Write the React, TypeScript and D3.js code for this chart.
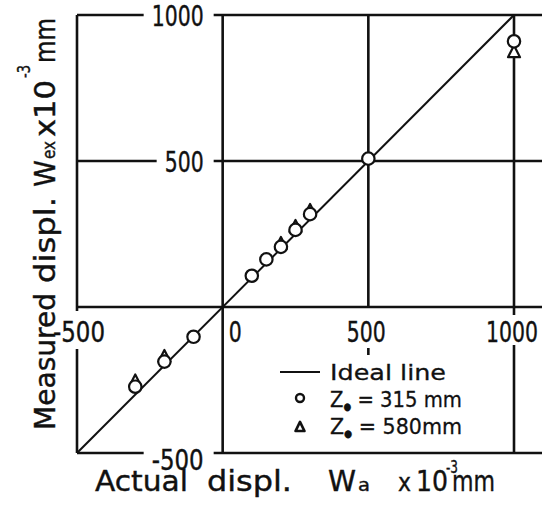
import React from 'react';
import * as d3 from 'd3';

// ---- data ----
const circleX = [-300, -200, -100, 100, 150, 200, 250, 300, 500, 1000];
const circleY = [-273, -187, -102, 107, 163, 206, 264, 318, 508, 910];
const triangleX = [-300, -200, 200, 250, 300, 1000];
const triangleY = [-253, -169, 218, 276, 331, 874];
const idealX = [-500, 1000];
const yTickValues = [1000, 500, -500];
const yTickLabels = ['1000', '500', '-500'];
const xTickValues = [-500, 0, 500, 1000];
const xTickLabels = ['-500', '0', '500', '1000'];
const seriesNames = ['Ideal line', '315 mm', '580mm'];

// ---- layout ----
const W = 542;
const H = 514;
const FONT = 'DejaVu Sans';
const digitW = 13;
const INK = '#111';

type Piece = { t: string; x: number; y: number; fs: number; len: number };

const xTitle: Piece[] = [
  { t: 'Actual', x: 95, y: 491, fs: 28, len: 93 },
  { t: 'displ.', x: 207, y: 491, fs: 28, len: 85 },
  { t: 'W', x: 328, y: 491, fs: 28, len: 28 },
  { t: 'a', x: 358, y: 491, fs: 18, len: 12 },
  { t: 'x', x: 398, y: 491, fs: 24, len: 13 },
  { t: '10', x: 416, y: 491, fs: 28, len: 32 },
  { t: '-3', x: 446, y: 473, fs: 17, len: 12 },
  { t: 'mm', x: 452, y: 491, fs: 28, len: 43 },
];
const yTitle: Piece[] = [
  { t: 'Measured', x: 0, y: 0, fs: 28, len: 137 },
  { t: 'displ.', x: 147, y: 0, fs: 28, len: 86 },
  { t: 'W', x: 243, y: 0, fs: 28, len: 27 },
  { t: 'ex', x: 271, y: 0, fs: 18, len: 18 },
  { t: 'x10', x: 293, y: 0, fs: 28, len: 57 },
  { t: '-3', x: 352, y: -25, fs: 17, len: 13 },
  { t: 'mm', x: 367, y: 0, fs: 28, len: 45 },
];

export default function App() {
  const x = d3.scaleLinear().domain([-500, 1000]).range([77, 514]);
  const y = d3.scaleLinear().domain([-500, 1000]).range([453, 15]);

  const gw = 2.6;

  const labelW = (s: string) => s.length * digitW;
  const yLabelRight = x(0) - 19;
  const yLabelDy = [11, 11, 17];

  const hSegs: [number, number, number][] = [];
  yTickValues.forEach((v, i) => {
    const left = yLabelRight - labelW(yTickLabels[i]);
    hSegs.push([y(v), x(-500), left - 8]);
    hSegs.push([y(v), x(0) - 9, W]);
  });
  hSegs.push([y(0), x(-500), W]);

  const xLabelBase = y(0) + 35;
  const vSegs: [number, number, number][] = [
    [x(-500), y(1000), y(0) + 4],
    [x(-500), y(0) + 42, y(-500)],
    [x(0), y(1000), y(-500)],
    [x(500), y(1000), y(0)],
    [x(500), y(0) + 41, y(0) + 48],
    [x(1000), y(1000), y(0) + 8],
    [x(1000), y(0) + 38, y(-500)],
  ];

  const line = d3.line<number>().x((d) => x(d)).y((d) => y(d));
  const tri = (cx: number, cy: number, s: number) => {
    const h = s * 0.9;
    return `M${cx},${cy - h / 2 - 1} L${cx + s / 2},${cy + h / 2} L${cx - s / 2},${cy + h / 2} Z`;
  };

  const xLabelPos = (v: number) => {
    if (v === 0) return { x: x(0) + 6, anchor: 'start' };
    if (v === -500) return { x: x(-500) - 24, anchor: 'start' };
    return { x: x(v) - 2, anchor: 'middle' };
  };

  const lx = 280;
  const ly = 372;
  const textInk = { fill: INK, stroke: INK, strokeWidth: 0.4 };

  return (
    <svg
      width={W}
      height={H}
      style={{ position: 'absolute', left: 0, top: 0, background: '#fff' }}
      fontFamily={FONT}
    >
      <rect width={W} height={H} fill="#fff" />
      {hSegs.map((s, i) => (
        <line key={'h' + i} x1={s[1]} x2={s[2]} y1={s[0]} y2={s[0]} stroke={INK} strokeWidth={gw} />
      ))}
      {vSegs.map((s, i) => (
        <line key={'v' + i} x1={s[0]} x2={s[0]} y1={s[1]} y2={s[2]} stroke={INK} strokeWidth={gw} />
      ))}
      <path d={line(idealX) || ''} stroke={INK} strokeWidth={2} fill="none" />

      {yTickValues.map((v, i) => (
        <text
          key={'yt' + i}
          x={yLabelRight}
          y={y(v) + yLabelDy[i]}
          textAnchor="end"
          fontSize={28}
          textLength={labelW(yTickLabels[i])}
          lengthAdjust="spacingAndGlyphs"
          {...textInk}
        >
          {yTickLabels[i]}
        </text>
      ))}
      {xTickValues.map((v, i) => {
        const p = xLabelPos(v);
        return (
          <text
            key={'xt' + i}
            x={p.x}
            y={xLabelBase}
            textAnchor={p.anchor as any}
            fontSize={28}
            textLength={labelW(xTickLabels[i])}
            lengthAdjust="spacingAndGlyphs"
            {...textInk}
          >
            {xTickLabels[i]}
          </text>
        );
      })}

      {triangleX.map((v, i) => (
        <path key={'t' + i} d={tri(x(v), y(triangleY[i]), 12)} fill="#fff" stroke={INK} strokeWidth={2.2} strokeLinejoin="round" />
      ))}
      {circleX.map((v, i) => (
        <circle key={'c' + i} cx={x(v)} cy={y(circleY[i])} r={6.2} fill="#fff" stroke={INK} strokeWidth={2.2} />
      ))}

      {/* legend */}
      <line x1={lx} x2={lx + 40} y1={ly} y2={ly} stroke={INK} strokeWidth={2} />
      <text x={lx + 50} y={ly + 8} fontSize={22} textLength={116} lengthAdjust="spacingAndGlyphs" {...textInk} strokeWidth={0.3}>
        {seriesNames[0]}
      </text>
      <circle cx={lx + 20} cy={ly + 26} r={4} fill="#fff" stroke={INK} strokeWidth={2.4} />
      <text x={lx + 50} y={ly + 35} fontSize={22} textLength={132} lengthAdjust="spacingAndGlyphs" {...textInk} strokeWidth={0.3}>
        <tspan>Z</tspan>
        <tspan fontSize={10} dy={3}>●</tspan>
        <tspan dy={-3}> = </tspan>
        <tspan>{seriesNames[1]}</tspan>
      </text>
      <path d={tri(lx + 20, ly + 55, 9)} fill="#fff" stroke={INK} strokeWidth={2.6} strokeLinejoin="round" />
      <text x={lx + 50} y={ly + 62} fontSize={22} textLength={132} lengthAdjust="spacingAndGlyphs" {...textInk} strokeWidth={0.3}>
        <tspan>Z</tspan>
        <tspan fontSize={10} dy={3}>●</tspan>
        <tspan dy={-3}> = </tspan>
        <tspan>{seriesNames[2]}</tspan>
      </text>

      {xTitle.map((p, i) => (
        <text key={'xti' + i} x={p.x} y={p.y} fontSize={p.fs} textLength={p.len} lengthAdjust="spacingAndGlyphs" {...textInk}>
          {p.t}
        </text>
      ))}
      <g transform="translate(55,430) rotate(-90)">
        {yTitle.map((p, i) => (
          <text key={'yti' + i} x={p.x} y={p.y} fontSize={p.fs} textLength={p.len} lengthAdjust="spacingAndGlyphs" {...textInk}>
            {p.t}
          </text>
        ))}
      </g>
    </svg>
  );
}
